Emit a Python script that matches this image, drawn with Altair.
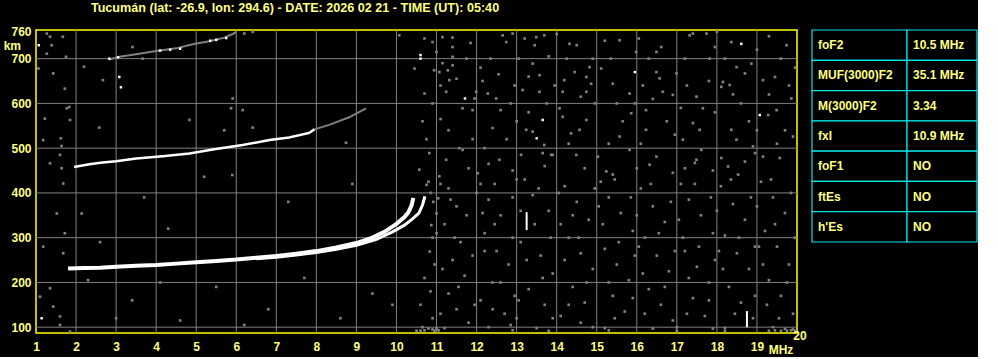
import altair as alt
import pandas as pd

TITLE = "Tucumán (lat: -26.9, lon: 294.6) - DATE: 2026 02 21 - TIME (UT): 05:40"

# ---- axis ticks / grid -----------------------------------------------------
x_ticks = list(range(1, 20))
y_ticks = [100, 200, 300, 400, 500, 600, 700, 760]
grid_f = list(range(2, 20))
grid_h = [100, 200, 300, 400, 500, 600, 700]

# ---- F2 traces (MHz, km) -----------------------------------------------------
o_freq = [1.8, 2.2, 2.6, 3.0, 3.5, 4.0, 4.5, 5.0, 5.5, 6.0, 6.5, 7.0, 7.5, 8.0, 8.5, 9.0, 9.4, 9.7, 10.0, 10.2, 10.3, 10.38, 10.42]
o_height = [231, 232, 233, 235, 237, 239, 242, 245, 248, 251, 255, 259, 264, 270, 278, 288, 300, 313, 331, 346, 357, 373, 389]

x_freq = [6.5, 7.0, 7.5, 8.0, 8.5, 9.0, 9.5, 9.9, 10.2, 10.4, 10.56, 10.65, 10.71]
x_height = [253, 256, 261, 267, 274, 283, 296, 313, 328, 342, 355, 373, 392]

# second hop
f2b_freq = [1.95, 2.33, 2.66, 3.0, 3.5, 4.16, 4.83, 5.49, 6.16, 6.83, 7.32, 7.82, 7.95]
f2b_height = [458, 464, 468, 471, 477, 482, 488, 498, 507, 518, 524, 534, 542]
f2b_tail_freq = [7.95, 8.32, 8.82, 9.24]
f2b_tail_height = [542, 552, 569, 589]

# third hop
f3_freq = [2.83, 3.08, 3.5, 4.0, 4.5, 4.91, 5.33, 5.7, 5.91, 6.0]
f3_height = [698, 704, 710, 717, 723, 732, 739, 747, 755, 760]
f3_white_freq = [2.83, 3.05, 4.1, 4.35, 4.6, 5.35, 5.5, 5.75]
f3_white_height = [700, 703, 718, 720, 722, 740, 742, 746]

# ---- scattered noise (MHz, km) ---------------------------------------------
noise_right_upper = [
    (10.9, 737), (11.15, 748), (11.4, 747), (11.4, 726), (11.4, 704), (11.4, 685), (11.28, 674),
    (11.32, 652), (11.24, 626), (10.94, 674), (11.07, 670), (10.7, 622), (11.65, 589), (11.9, 585),
    (11.99, 626), (11.95, 611), (12.28, 622), (12.49, 611), (12.65, 752), (12.9, 756), (12.74, 737),
    (13.49, 748), (13.45, 730), (13.69, 752), (13.4, 689), (13.57, 663), (13.57, 626), (13.15, 630),
    (13.24, 541), (13.4, 537), (13.69, 507), (13.86, 485), (14.15, 626), (14.19, 652), (14.32, 733),
    (14.5, 730), (14.74, 659), (14.86, 644), (14.74, 626), (14.82, 681), (14.07, 589), (14.15, 570),
    (14.36, 533), (14.57, 541), (14.74, 563), (15.11, 678), (15.4, 644), (15.57, 741), (15.82, 622),
    (15.98, 715), (16.23, 585), (16.23, 541), (15.86, 578), (15.57, 526), (16.49, 670), (16.57, 656),
    (16.65, 626), (16.61, 726), (16.49, 715), (16.99, 667), (16.9, 619), (17.15, 519), (17.4, 756),
    (17.49, 615), (17.65, 589), (17.4, 556), (17.57, 541), (17.74, 756), (17.82, 700), (17.95, 726),
    (18.15, 648), (18.11, 637), (18.32, 641), (18.49, 681), (18.7, 667), (18.86, 689), (19.28, 574),
    (19.49, 585), (19.74, 730), (19.86, 611), (19.45, 659), (19.15, 652), (19.9, 526), (18.36, 737),
    (17.32, 752), (18.36, 541), (18.49, 519), (18.9, 504), (19.15, 481), (19.57, 478), (18.95, 489),
    (17.61, 496), (17.45, 467), (17.49, 474), (18.11, 478), (18.28, 459), (18.53, 441), (16.49, 481),
    (16.32, 463), (15.82, 496), (15.24, 448), (15.4, 441), (15.03, 481), (14.49, 485), (13.9, 485),
    (13.65, 489), (13.11, 485), (12.57, 474), (11.65, 496), (11.57, 500), (11.24, 474), (10.82, 489),
    (11.07, 437), (10.57, 452), (12.03, 444),
]
noise_right_upper_2 = [
    (10.7, 745), (11.0, 715), (11.15, 690), (11.5, 655), (11.1, 640), (11.75, 700), (11.85, 735),
    (12.1, 680), (12.15, 650), (12.35, 700), (12.55, 665), (12.6, 585), (12.85, 600), (12.95, 640),
    (13.05, 700), (13.2, 745), (13.3, 660), (13.8, 705), (13.95, 640), (13.75, 600), (13.3, 580),
    (13.0, 560), (12.75, 520), (12.4, 545), (12.2, 500), (11.9, 520), (11.3, 540), (11.1, 565),
    (10.9, 600), (10.65, 560), (10.75, 520), (14.0, 755), (14.25, 700), (14.45, 670), (14.6, 615),
    (14.95, 600), (14.9, 700), (15.2, 740), (15.35, 700), (15.5, 600), (15.65, 560), (15.95, 600),
    (16.05, 745), (16.3, 700), (16.15, 640), (16.4, 610), (16.75, 560), (16.95, 530), (16.1, 510),
    (15.3, 510), (14.3, 510), (17.2, 700), (17.25, 640), (17.8, 650), (17.95, 580), (17.1, 590),
    (18.0, 760), (18.2, 700), (18.6, 600), (18.8, 560), (18.4, 620), (19.0, 720), (19.3, 750),
    (19.6, 700), (19.95, 680), (19.8, 640), (19.3, 620), (19.0, 540), (19.7, 540), (19.5, 510),
    (18.7, 470), (17.9, 450), (17.2, 455), (16.9, 445), (16.0, 455), (14.7, 455), (13.7, 460),
    (12.9, 450), (12.3, 465), (11.8, 455),
]
noise_right_lower = [
    (10.8, 425), (10.85, 400), (10.92, 380), (11.0, 354), (10.87, 328), (10.9, 300), (10.83, 269),
    (10.95, 240), (10.7, 210), (10.85, 180), (10.6, 150), (10.9, 120), (10.65, 100), (10.8, 97),
    (10.9, 95), (11.0, 97), (11.04, 388), (10.75, 418),
    (11.3, 410), (11.5, 370), (11.2, 330), (11.6, 290), (11.4, 250), (11.7, 215), (11.3, 175),
    (11.5, 140), (11.8, 110), (11.2, 98),
    (12.1, 420), (12.3, 385), (12.6, 350), (12.2, 310), (12.5, 270), (12.8, 240), (12.4, 200),
    (12.1, 160), (12.7, 130), (12.3, 100),
    (13.0, 430), (13.4, 395), (13.8, 360), (13.1, 290), (13.6, 260), (13.9, 220), (13.3, 185),
    (13.7, 150), (13.0, 120), (13.5, 98),
    (14.2, 415), (14.5, 380), (14.8, 340), (14.3, 300), (14.6, 265), (14.9, 230), (14.4, 190),
    (14.7, 155), (14.1, 125), (14.9, 100),
    (15.1, 425), (15.3, 390), (15.6, 355), (15.9, 315), (15.2, 275), (15.5, 240), (15.8, 205),
    (15.4, 170), (15.7, 135), (15.2, 98),
    (16.1, 410), (16.4, 370), (16.7, 335), (16.2, 300), (16.5, 260), (16.8, 225), (16.3, 185),
    (16.6, 150), (16.9, 115), (16.4, 97),
    (17.1, 420), (17.3, 385), (17.6, 350), (17.9, 310), (17.2, 270), (17.5, 235), (17.8, 200),
    (17.4, 165), (17.7, 125), (17.0, 100), (17.9, 97),
    (18.1, 415), (18.4, 375), (18.7, 340), (18.2, 305), (18.5, 265), (18.8, 230), (18.3, 190),
    (18.6, 155), (18.9, 120), (18.2, 98),
    (19.1, 425), (19.4, 390), (19.7, 355), (19.2, 315), (19.5, 280), (19.8, 240), (19.3, 205),
    (19.6, 170), (19.9, 130), (19.4, 100), (19.7, 96), (19.9, 95),
]
noise_right_lower_2 = [
    (10.7, 390), (11.1, 420), (11.35, 385), (11.75, 350), (11.0, 310), (11.45, 300), (11.9, 260),
    (11.15, 230), (11.55, 190), (11.95, 150), (11.1, 130), (12.0, 400), (12.45, 420), (12.9, 390),
    (12.15, 355), (12.45, 330), (12.9, 300), (12.2, 270), (12.6, 200), (12.95, 170), (12.4, 140),
    (12.85, 105), (13.2, 430), (13.55, 410), (13.1, 360), (13.45, 330), (13.85, 300), (13.25, 250),
    (13.65, 210), (13.05, 160), (13.9, 120), (14.05, 400), (14.4, 350), (14.95, 410), (14.1, 330),
    (14.55, 300), (14.2, 250), (14.75, 200), (14.3, 150), (14.6, 110), (15.05, 370), (15.45, 430),
    (15.85, 390), (15.15, 330), (15.55, 290), (15.95, 260), (15.3, 200), (15.9, 165), (15.45, 120),
    (16.0, 350), (16.35, 420), (16.85, 380), (16.05, 280), (16.55, 310), (16.95, 270), (16.15, 220),
    (16.7, 190), (16.2, 130), (17.05, 340), (17.45, 420), (17.85, 390), (17.15, 300), (17.55, 280),
    (17.95, 250), (17.3, 210), (17.8, 160), (17.25, 130), (18.0, 360), (18.35, 430), (18.85, 390),
    (18.05, 270), (18.55, 300), (18.95, 280), (18.15, 230), (18.45, 130), (18.95, 170), (19.0, 370),
    (19.35, 430), (19.85, 400), (19.05, 280), (19.45, 330), (19.95, 300), (19.15, 240), (19.75, 200),
    (19.25, 150), (19.55, 120),
    (10.5, 92), (10.6, 92), (10.7, 93), (10.95, 92), (11.05, 93), (19.3, 92), (19.45, 93),
    (19.6, 92), (19.75, 92), (19.85, 93), (19.95, 92), (18.2, 92), (17.0, 92), (15.3, 93),
    (13.8, 92), (12.9, 93),
]
noise_left = [
    (1.27, 756), (1.35, 749), (1.39, 730), (1.27, 711), (1.06, 678), (1.43, 667), (1.72, 633),
    (1.77, 589), (1.22, 566), (1.85, 563), (1.18, 518), (1.64, 505), (1.6, 485), (1.35, 466),
    (1.64, 455), (1.68, 421), (1.52, 354), (2.14, 354), (1.72, 310), (1.18, 280), (1.68, 265),
    (1.35, 187), (1.1, 168), (1.43, 146), (1.6, 124), (1.6, 105), (1.85, 90),
    (1.67, 749), (2.67, 652), (3.41, 726), (3.66, 700), (5.91, 611), (5.87, 589), (6.16, 585),
    (4.83, 563), (2.58, 546), (6.41, 546), (5.7, 540), (8.74, 512), (10.07, 752), (6.41, 760),
    (6.2, 756), (10.45, 678), (5.2, 436), (1.62, 522), (1.83, 592), (2.2, 682), (1.75, 704),
    (2.3, 205), (3.4, 160), (4.6, 115), (5.5, 190), (6.8, 140), (7.7, 210), (8.6, 120),
    (9.4, 175), (3.0, 120), (4.1, 200), (6.2, 105), (9.9, 150), (2.6, 290), (4.3, 320),
    (7.3, 380), (8.9, 420), (5.9, 440), (3.7, 390),
]
white_specks = [
    (13.65, 563), (13.5, 522), (15.95, 670), (18.61, 733), (19.07, 574), (11.71, 611),
    (10.6, 700), (10.6, 708), (1.07, 730), (1.14, 120), (3.08, 659), (3.12, 636),
]
# vertical bright streaks: (MHz, km from, km to)
streak_f = [13.25, 18.75]
streak_h1 = [317, 100]
streak_h2 = [357, 136]

# ---- parameter table -------------------------------------------------------
tbl_param = ["foF2", "MUF(3000)F2", "M(3000)F2", "fxI", "foF1", "ftEs", "h'Es"]
tbl_value = ["10.5 MHz", "35.1 MHz", "3.34", "10.9 MHz", "NO", "NO", "NO"]

# ---------------------------------------------------------------------------
YEL = "#ffff80"
FRAME = "#ffff00"
GRAY = "#808080"
FONT = "Liberation Sans"

xscale = alt.Scale(domain=[1, 20], nice=False, zero=False)
yscale = alt.Scale(domain=[87, 764], nice=False, zero=False)
xaxis = alt.Axis(values=x_ticks, title=None, grid=False, ticks=False, domain=False,
                 labelFlush=False, labelColor=YEL, labelFont=FONT, labelFontSize=12,
                 labelFontWeight="bold", labelPadding=8)
yaxis = alt.Axis(values=y_ticks, title=None, grid=False, ticks=False, domain=False,
                 labelFlush=False, labelColor=YEL, labelFont=FONT, labelFontSize=12,
                 labelFontWeight="bold", labelPadding=5, labelBaseline="middle")
X = alt.X("f:Q", scale=xscale, axis=xaxis)
Y = alt.Y("h:Q", scale=yscale, axis=yaxis)


def pairs(lst):
    return pd.DataFrame({"f": [p[0] for p in lst], "h": [p[1] for p in lst]})


vgrid = alt.Chart(pd.DataFrame({"f": grid_f})).mark_rule(color=GRAY, strokeWidth=1).encode(x=X)
hgrid = alt.Chart(pd.DataFrame({"h": grid_h})).mark_rule(color=GRAY, strokeWidth=1).encode(y=Y)

noise_df = pd.concat([pairs(noise_right_upper), pairs(noise_right_upper_2),
                      pairs(noise_right_lower), pairs(noise_right_lower_2), pairs(noise_left)])
noise = alt.Chart(noise_df).mark_square(color=GRAY, size=7, opacity=1).encode(x=X, y=Y)

f3_line = alt.Chart(pd.DataFrame({"f": f3_freq, "h": f3_height})).mark_line(
    color=GRAY, strokeWidth=2).encode(x=X, y=Y)
f3_dots = alt.Chart(pd.DataFrame({"f": f3_white_freq, "h": f3_white_height})).mark_square(
    color="white", size=6, opacity=1).encode(x=X, y=Y)

f2b_tail = alt.Chart(pd.DataFrame({"f": f2b_tail_freq, "h": f2b_tail_height})).mark_line(
    color=GRAY, strokeWidth=2).encode(x=X, y=Y)
f2b = alt.Chart(pd.DataFrame({"f": f2b_freq, "h": f2b_height})).mark_line(
    color="white", strokeWidth=2.5).encode(x=X, y=Y)

o_line = alt.Chart(pd.DataFrame({"f": o_freq, "h": o_height})).mark_line(
    color="white", strokeWidth=4).encode(x=X, y=Y)
x_line = alt.Chart(pd.DataFrame({"f": x_freq, "h": x_height})).mark_line(
    color="white", strokeWidth=3).encode(x=X, y=Y)

specks = alt.Chart(pairs(white_specks)).mark_square(color="white", size=6, opacity=1).encode(x=X, y=Y)
streaks = alt.Chart(pd.DataFrame({"f": streak_f, "h": streak_h1, "h2": streak_h2})).mark_rule(
    color="white", strokeWidth=2).encode(x=X, y=Y, y2="h2:Q")

km_lbl = alt.Chart(pd.DataFrame({"t": ["km"]})).mark_text(
    align="right", baseline="middle", color=YEL, font=FONT, fontSize=12, fontWeight="bold",
    clip=False).encode(x=alt.value(-15), y=alt.value(16), text="t:N")
mhz_lbl = alt.Chart(pd.DataFrame({"t": ["MHz"]})).mark_text(
    align="center", baseline="middle", color=YEL, font=FONT, fontSize=12, fontWeight="bold",
    clip=False).encode(x=alt.value(745), y=alt.value(320), text="t:N")
twenty_lbl = alt.Chart(pd.DataFrame({"t": ["20"]})).mark_text(
    align="center", baseline="middle", color=YEL, font=FONT, fontSize=12, fontWeight="bold",
    clip=False).encode(x=alt.value(764), y=alt.value(306), text="t:N")

iono = alt.layer(
    vgrid, hgrid, noise, f3_line, f3_dots, f2b_tail, f2b, o_line, x_line, specks, streaks,
    km_lbl, mhz_lbl, twenty_lbl,
).properties(width=761, height=303,
             view=alt.ViewBackground(stroke=FRAME, strokeWidth=1.5, fill="black"))

# table
rows = []
for p, v in zip(tbl_param, tbl_value):
    rows.append({"row": p, "x0": 0, "x1": 95, "label": p})
    rows.append({"row": p, "x0": 95, "x1": 165, "label": v})
tdf = pd.DataFrame(rows)
TX = alt.X("x0:Q", scale=alt.Scale(domain=[0, 165], nice=False, zero=False), axis=None)
TY = alt.Y("row:N", sort=tbl_param, scale=alt.Scale(paddingInner=0, paddingOuter=0), axis=None)
cells = alt.Chart(tdf).mark_rect(fill="black", stroke="#00e8e8", strokeWidth=1.2).encode(
    x=TX, x2="x1:Q", y=TY)
ctext = alt.Chart(tdf).mark_text(align="left", baseline="middle", dx=6, color=YEL, font=FONT,
                                 fontSize=12, fontWeight="bold").encode(x=TX, y=TY, text="label:N")
table = alt.layer(cells, ctext).properties(
    width=165, height=212, view=alt.ViewBackground(strokeOpacity=0))

chart = alt.hconcat(iono, table, spacing=15, bounds="flush").properties(
    title=alt.TitleParams(TITLE, anchor="start", dx=88, color=YEL, font=FONT, fontSize=12.6,
                          fontWeight="bold", offset=10),
    padding={"left": 2, "top": 2, "right": 0, "bottom": 0},
    background="black",
).configure_view(stroke=None)

chart.save("out.html", embed_options={"renderer": "svg", "actions": False})
